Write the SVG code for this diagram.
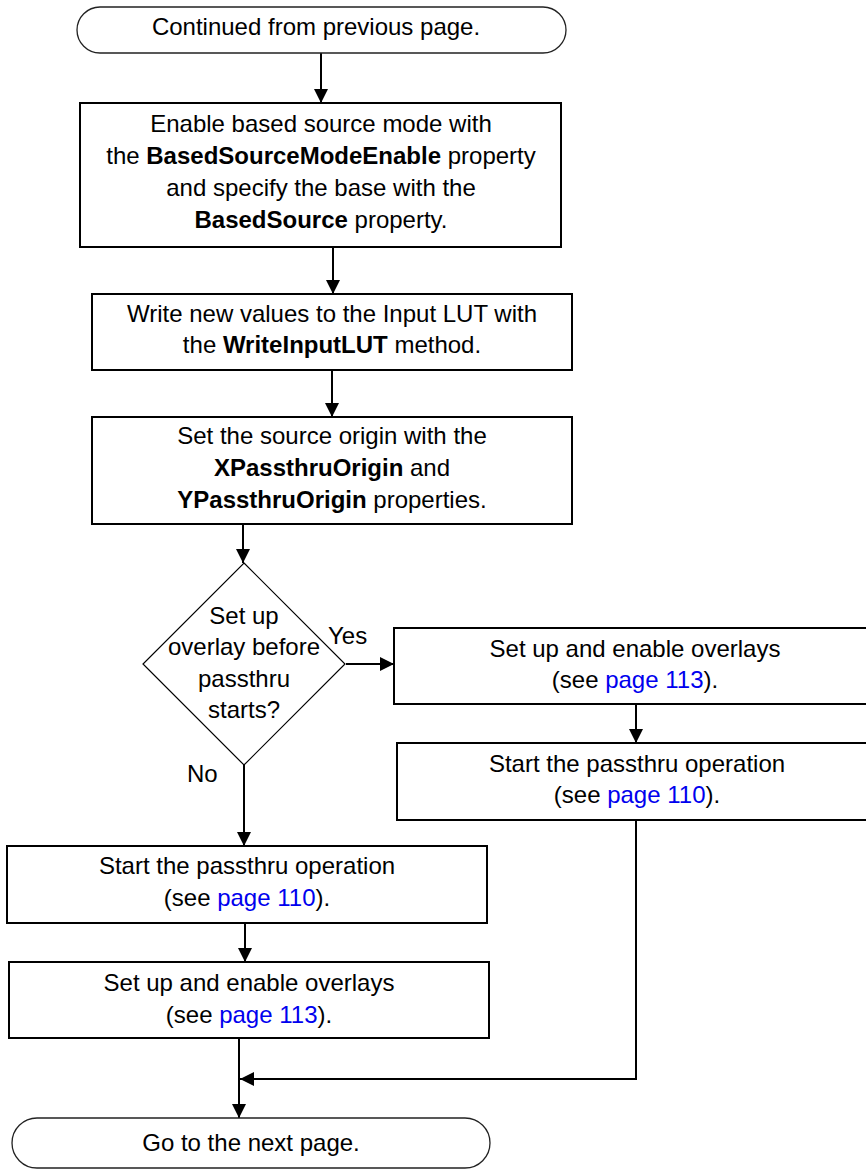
<svg xmlns="http://www.w3.org/2000/svg" width="866" height="1173" viewBox="0 0 866 1173">
  <style>
    .box { fill: #fff; stroke: #000; stroke-width: 2; }
    .term { fill: #fff; stroke: #222; stroke-width: 1.3; }
    .dia { fill: #fff; stroke: #000; stroke-width: 1.2; }
    .conn { fill: none; stroke: #000; stroke-width: 2; }
    text { font-family: "Liberation Sans", Arial, sans-serif; font-size: 24px; fill: #000; }
    .c { text-anchor: middle; }
    .b { font-weight: bold; }
    .link { fill: #0000ee; }
  </style>
  <defs>
    <marker id="arrow" markerUnits="userSpaceOnUse" markerWidth="14" markerHeight="14" viewBox="0 0 14 14" refX="14" refY="7" orient="auto">
      <path d="M0,0 L14,7 L0,14 Z" fill="#000"/>
    </marker>
  </defs>

  <!-- connectors -->
  <g id="connectors">
    <line class="conn" x1="321" y1="53" x2="321" y2="103" marker-end="url(#arrow)"/>
    <line class="conn" x1="333" y1="247" x2="333" y2="294" marker-end="url(#arrow)"/>
    <line class="conn" x1="332" y1="370" x2="332" y2="417" marker-end="url(#arrow)"/>
    <line class="conn" x1="243" y1="524" x2="243" y2="563" marker-end="url(#arrow)"/>
    <line class="conn" x1="346" y1="664" x2="394" y2="664" marker-end="url(#arrow)"/>
    <line class="conn" x1="636" y1="704" x2="636" y2="743" marker-end="url(#arrow)"/>
    <line class="conn" x1="244" y1="765" x2="244" y2="846" marker-end="url(#arrow)"/>
    <line class="conn" x1="245" y1="923" x2="245" y2="962" marker-end="url(#arrow)"/>
    <line class="conn" x1="239" y1="1038" x2="239" y2="1118" marker-end="url(#arrow)"/>
    <polyline class="conn" points="636,820 636,1079 240,1079" marker-end="url(#arrow)"/>
    <text x="328" y="644">Yes</text>
    <text x="187" y="782">No</text>
  </g>

  <g id="start">
    <rect class="term" x="77" y="7" width="489" height="46" rx="23" ry="23"/>
    <text class="c" x="316" y="35">Continued from previous page.</text>
  </g>

  <g id="enable-based-source">
    <rect class="box" x="80" y="103" width="481" height="144"/>
    <text class="c" x="321" y="132">Enable based source mode with</text>
    <text class="c" x="321" y="164">the <tspan class="b">BasedSourceModeEnable</tspan> property</text>
    <text class="c" x="321" y="196">and specify the base with the</text>
    <text class="c" x="321" y="228"><tspan class="b">BasedSource</tspan> property.</text>
  </g>

  <g id="write-lut">
    <rect class="box" x="92" y="294" width="480" height="76"/>
    <text class="c" x="332" y="322">Write new values to the Input LUT with</text>
    <text class="c" x="332" y="353">the <tspan class="b">WriteInputLUT</tspan> method.</text>
  </g>

  <g id="source-origin">
    <rect class="box" x="92" y="417" width="480" height="107"/>
    <text class="c" x="332" y="444">Set the source origin with the</text>
    <text class="c" x="332" y="476"><tspan class="b">XPassthruOrigin</tspan> and</text>
    <text class="c" x="332" y="508"><tspan class="b">YPassthruOrigin</tspan> properties.</text>
  </g>

  <g id="decision">
    <polygon class="dia" points="244,563 345,664 244,765 143,664"/>
    <text class="c" x="244" y="624">Set up</text>
    <text class="c" x="244" y="655">overlay before</text>
    <text class="c" x="244" y="687">passthru</text>
    <text class="c" x="244" y="718">starts?</text>
  </g>

  <g id="yes-overlays">
    <rect class="box" x="394" y="628" width="486" height="76"/>
    <text class="c" x="635" y="657">Set up and enable overlays</text>
    <text class="c" x="635" y="688">(see <tspan class="link">page 113</tspan>).</text>
  </g>

  <g id="yes-passthru">
    <rect class="box" x="397" y="743" width="483" height="77"/>
    <text class="c" x="637" y="772">Start the passthru operation</text>
    <text class="c" x="637" y="803">(see <tspan class="link">page 110</tspan>).</text>
  </g>

  <g id="no-passthru">
    <rect class="box" x="7" y="846" width="480" height="77"/>
    <text class="c" x="247" y="874">Start the passthru operation</text>
    <text class="c" x="247" y="906">(see <tspan class="link">page 110</tspan>).</text>
  </g>

  <g id="no-overlays">
    <rect class="box" x="9" y="962" width="480" height="76"/>
    <text class="c" x="249" y="991">Set up and enable overlays</text>
    <text class="c" x="249" y="1023">(see <tspan class="link">page 113</tspan>).</text>
  </g>

  <g id="end">
    <rect class="term" x="12" y="1118" width="478" height="50" rx="25" ry="25"/>
    <text class="c" x="251" y="1151">Go to the next page.</text>
  </g>
</svg>
